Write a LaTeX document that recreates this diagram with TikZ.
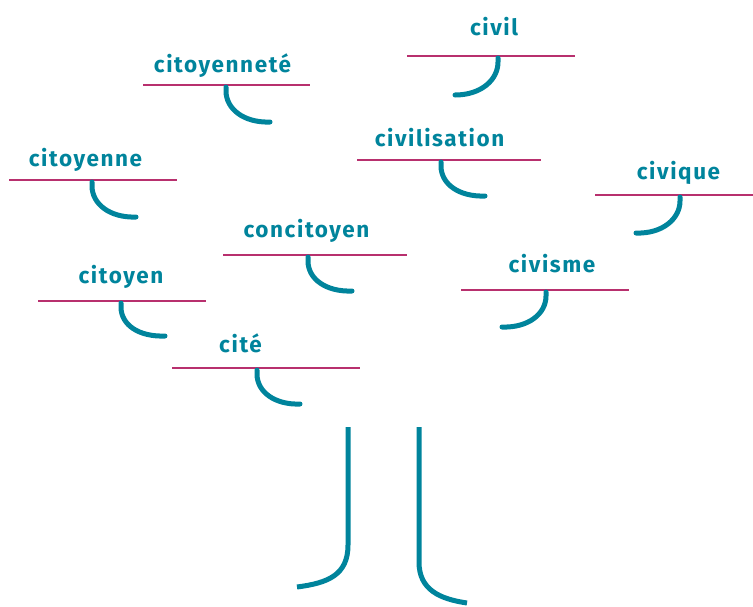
\documentclass[tikz,border=0pt]{standalone}
\usepackage{fontspec}
\setmainfont{Fira Sans}
\newfontfamily\leaffont[LetterSpace=7]{Fira Sans}
\usepackage{xcolor}
\definecolor{leafteal}{HTML}{00849C}
\definecolor{twigpink}{HTML}{B8306E}

\begin{document}
\begin{tikzpicture}[x=1pt,y=-1pt,
    every node/.style={inner sep=0pt, outer sep=0pt},
    word/.style={anchor=base, text=leafteal, font=\leaffont\fontsize{22.5}{26}\selectfont\bfseries},
    twig/.style={draw=twigpink, line width=2.6pt},
    limb/.style={draw=leafteal, line width=5pt, line cap=round}]

  \useasboundingbox (0,0) rectangle (753,606);

  % words
  \node[word] (civil)     at (494,35)  {civil};
  \node[word] (citnete)   at (222.5,72) {citoyenneté};
  \node[word] (civilis)   at (439.5,146) {civilisation};
  \node[word] (citenne)   at (85.5,166) {citoyenne};
  \node[word] (civique)   at (678.5,179) {civique};
  \node[word] (concit)    at (306.5,237) {concitoyen};
  \node[word] (civisme)   at (552,272) {civisme};
  \node[word] (citoyen)   at (121,283) {citoyen};
  \node[word] (cite)      at (240.5,352) {cité};

  % lines under the words
  \draw[twig] (407,56)  -- (575,56);
  \draw[twig] (143,85)  -- (310,85);
  \draw[twig] (357,160) -- (541,160);
  \draw[twig] (9,180)   -- (177,180);
  \draw[twig] (595,195) -- (753,195);
  \draw[twig] (223,255) -- (407,255);
  \draw[twig] (461,290) -- (629,290);
  \draw[twig] (38,301)  -- (206,301);
  \draw[twig] (172,368) -- (360,368);

  % hooks
  \draw[limb] (498,58)  -- (498,62)  .. controls (498,80)  and (481,95)  .. (455,95);
  \draw[limb] (226,87)  -- (226,91)  .. controls (226,109) and (244,123) .. (270,122);
  \draw[limb] (441,162) -- (441,166) .. controls (441,184) and (459,197) .. (485,196);
  \draw[limb] (92,182)  -- (92,186)  .. controls (92,204)  and (110,218) .. (136,217);
  \draw[limb] (680,197) -- (680,201) .. controls (680,219) and (662,234) .. (636,233);
  \draw[limb] (308,257) -- (308,261) .. controls (308,279) and (326,292) .. (352,291);
  \draw[limb] (546,292) -- (546,296) .. controls (546,314) and (528,328) .. (502,327);
  \draw[limb] (121,303) -- (121,307) .. controls (121,325) and (139,337) .. (165,336);
  \draw[limb] (257,370) -- (257,374) .. controls (257,392) and (275,405) .. (300,404);

  % trunk
  \draw[limb, line cap=butt] (348,427) -- (348,545) .. controls (348,575) and (328,583) .. (297,587);
  \draw[limb, line cap=butt] (419,427) -- (419,562) .. controls (419,590) and (440,599) .. (467,603);
\end{tikzpicture}
\end{document}
